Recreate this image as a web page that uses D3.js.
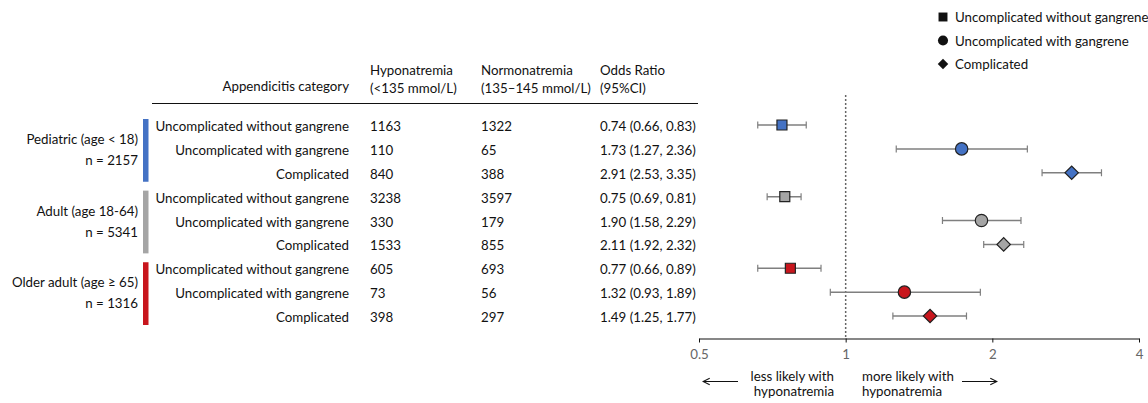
<!DOCTYPE html>
<html>
<head>
<meta charset="utf-8">
<script src="https://cdn.jsdelivr.net/npm/d3@7"></script>
<style>
  body { margin: 0; background: #fff; }
  svg text { font-family: Lato, "Noto Sans", sans-serif; font-size: 13.3px; fill: #111; }
</style>
</head>
<body>
<div id="chart"></div>
<script>
// Data
const groups = ["Pediatric (age < 18)", "Adult (age 18-64)", "Older adult (age \u2265 65)"];
const groupN = ["n = 2157", "n = 5341", "n = 1316"];
const groupColors = ["#4472c4", "#a5a5a5", "#c8161d"];
const categories = ["Uncomplicated without gangrene", "Uncomplicated with gangrene", "Complicated"];
const hypo = [1163, 110, 840, 3238, 330, 1533, 605, 73, 398];
const normo = [1322, 65, 388, 3597, 179, 855, 693, 56, 297];
const oddsRatio = [0.74, 1.73, 2.91, 0.75, 1.90, 2.11, 0.77, 1.32, 1.49];
const ciLow = [0.66, 1.27, 2.53, 0.69, 1.58, 1.92, 0.66, 0.93, 1.25];
const ciHigh = [0.83, 2.36, 3.35, 0.81, 2.29, 2.32, 0.89, 1.89, 1.77];
const xTicks = [0.5, 1, 2, 4];
const headers = [["Hyponatremia", "(<135 mmol/L)"], ["Normonatremia", "(135\u2013145 mmol/L)"], ["Odds Ratio", "(95%CI)"]];

const width = 1148, height = 403;

const rows = hypo.map((h, i) => ({
    group: Math.floor(i / 3),
    cat: i % 3,
    label: categories[i % 3],
    hypo: h,
    normo: normo[i],
    or: oddsRatio[i],
    lo: ciLow[i],
    hi: ciHigh[i]
}));

const svg = d3.select("#chart").append("svg")
    .attr("width", width)
    .attr("height", height);

// Scales
const x = d3.scaleLog().base(2).domain([0.5, 4]).range([699, 1139]);
const y = d3.scalePoint().domain(d3.range(rows.length)).range([125, 316]);

const colLabelX = 349, colHypoX = 370, colNormoX = 481, colOrX = 600;

// Header
svg.append("text")
    .attr("x", colLabelX).attr("y", 91)
    .attr("text-anchor", "end")
    .text("Appendicitis category");

[colHypoX, colNormoX, colOrX].forEach((cx, i) => {
    headers[i].forEach((line, j) => {
        svg.append("text")
            .attr("x", cx).attr("y", 75 + j * 18)
            .text(line);
    });
});

svg.append("line")
    .attr("x1", 152).attr("x2", 698)
    .attr("y1", 103.5).attr("y2", 103.5)
    .attr("stroke", "#111").attr("stroke-width", 1.2);

// Table rows
const rowG = svg.append("g").selectAll("g")
    .data(rows)
    .enter().append("g")
    .attr("transform", (d, i) => `translate(0, ${y(i) + 6})`);

rowG.append("text").attr("x", colLabelX).attr("text-anchor", "end").text(d => d.label);
rowG.append("text").attr("x", colHypoX).text(d => d.hypo);
rowG.append("text").attr("x", colNormoX).text(d => d.normo);
rowG.append("text").attr("x", colOrX)
    .text(d => `${d.or.toFixed(2)} (${d.lo.toFixed(2)}, ${d.hi.toFixed(2)})`);

// Group labels and colour bars
groups.forEach((g, gi) => {
    const top = y(gi * 3), bottom = y(gi * 3 + 2);
    svg.append("rect")
        .attr("x", 143).attr("y", top - 6)
        .attr("width", 5.5).attr("height", bottom - top + 15)
        .attr("fill", groupColors[gi]);
    const mid = (top + bottom) / 2;
    svg.append("text")
        .attr("x", 138).attr("y", mid - 5)
        .attr("text-anchor", "end")
        .text(g);
    svg.append("text")
        .attr("x", 138).attr("y", mid + 16)
        .attr("text-anchor", "end")
        .text(groupN[gi]);
});

// Reference line at OR = 1
svg.append("line")
    .attr("x1", x(1)).attr("x2", x(1))
    .attr("y1", 95).attr("y2", 338)
    .attr("stroke", "#666").attr("stroke-width", 1.5)
    .attr("stroke-dasharray", "2,2");

// X axis
const axis = svg.append("g")
    .attr("transform", "translate(0, 338.5)")
    .call(d3.axisBottom(x).tickValues(xTicks).tickFormat(d3.format("")).tickSize(4).tickSizeOuter(0));
axis.select(".domain").attr("stroke", "#111").attr("stroke-width", 1.2);
axis.selectAll(".tick line").attr("stroke", "#111");
axis.selectAll(".tick text")
    .attr("dy", "1.05em")
    .style("font-size", "13.3px")
    .style("fill", "#666");

// Error bars
const marks = svg.append("g").selectAll("g")
    .data(rows)
    .enter().append("g")
    .attr("transform", (d, i) => `translate(0, ${y(i)})`);

marks.append("line")
    .attr("x1", d => x(d.lo)).attr("x2", d => x(d.hi))
    .attr("stroke", "#7f7f7f").attr("stroke-width", 1.5);
marks.append("line")
    .attr("x1", d => x(d.lo)).attr("x2", d => x(d.lo))
    .attr("y1", -3.5).attr("y2", 3.5)
    .attr("stroke", "#7f7f7f").attr("stroke-width", 1.2);
marks.append("line")
    .attr("x1", d => x(d.hi)).attr("x2", d => x(d.hi))
    .attr("y1", -3.5).attr("y2", 3.5)
    .attr("stroke", "#7f7f7f").attr("stroke-width", 1.2);

const symbolTypes = [d3.symbolSquare, d3.symbolCircle, d3.symbolSquare];
const symbolSizes = [100, 120, 90];

// the diamond is a square turned 45 degrees
marks.append("path")
    .attr("transform", d => `translate(${x(d.or)}, 0)${d.cat === 2 ? " rotate(45)" : ""}`)
    .attr("d", d => d3.symbol().type(symbolTypes[d.cat]).size(symbolSizes[d.cat])())
    .attr("fill", d => groupColors[d.group])
    .attr("stroke", "#222")
    .attr("stroke-width", 1.2);

// Legend
const legend = svg.append("g").attr("transform", "translate(943, 0)");
categories.forEach((c, i) => {
    const ly = 17 + i * 23.5;
    legend.append("path")
        .attr("transform", `translate(0, ${ly})${i === 2 ? " rotate(45)" : ""}`)
        .attr("d", d3.symbol().type(symbolTypes[i]).size(i === 2 ? 55 : 80)())
        .attr("fill", "#111");
    legend.append("text")
        .attr("x", 12).attr("y", ly + 5)
        .text(c);
});

// Direction annotations
const arrowY = 381.5;
svg.append("defs").append("marker")
    .attr("id", "arrow")
    .attr("viewBox", "0 0 10 10")
    .attr("refX", 9).attr("refY", 5)
    .attr("markerWidth", 7).attr("markerHeight", 7)
    .attr("orient", "auto")
    .append("path")
    .attr("d", "M1,1 L9,5 L1,9")
    .attr("fill", "none")
    .attr("stroke", "#111")
    .attr("stroke-width", 1.3);

svg.append("line")
    .attr("x1", 738).attr("x2", 703)
    .attr("y1", arrowY).attr("y2", arrowY)
    .attr("stroke", "#111").attr("stroke-width", 1.2)
    .attr("marker-end", "url(#arrow)");
svg.append("line")
    .attr("x1", 962).attr("x2", 997)
    .attr("y1", arrowY).attr("y2", arrowY)
    .attr("stroke", "#111").attr("stroke-width", 1.2)
    .attr("marker-end", "url(#arrow)");

["less likely with", "hyponatremia"].forEach((t, j) => {
    svg.append("text").attr("x", 834).attr("y", 381 + j * 15)
        .attr("text-anchor", "end").text(t);
});
["more likely with", "hyponatremia"].forEach((t, j) => {
    svg.append("text").attr("x", 862).attr("y", 381 + j * 15).text(t);
});
</script>
</body>
</html>
